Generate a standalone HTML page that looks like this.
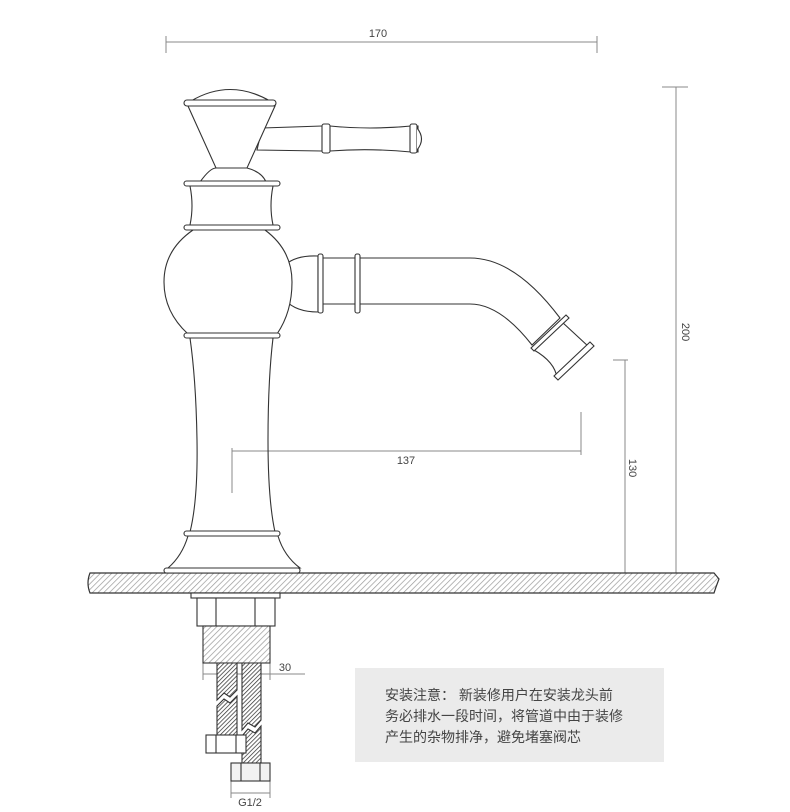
<!DOCTYPE html>
<html><head><meta charset="utf-8"><style>
html,body{margin:0;padding:0;background:#fff;}
svg{display:block;}
text{font-family:"Liberation Sans","Noto Sans CJK SC",sans-serif;}
</style></head><body>
<svg width="790" height="812" viewBox="0 0 790 812" xmlns="http://www.w3.org/2000/svg">
<defs>
<pattern id="h" width="4" height="4" patternUnits="userSpaceOnUse" patternTransform="rotate(45)">
<rect width="4" height="4" fill="#fff"/><line x1="0" y1="0" x2="0" y2="4" stroke="#999" stroke-width="1.4"/>
</pattern>
<pattern id="h2" width="3" height="3" patternUnits="userSpaceOnUse" patternTransform="rotate(45)">
<rect width="3" height="3" fill="#fff"/><line x1="0" y1="0" x2="0" y2="3" stroke="#333" stroke-width="1.5"/>
</pattern>
</defs>
<rect width="790" height="812" fill="#fff"/>
<!-- dims -->
<g stroke="#888" stroke-width="1" fill="none">
<line x1="166" y1="42" x2="597" y2="42"/><line x1="166" y1="36" x2="166" y2="53"/><line x1="597" y1="36" x2="597" y2="53"/>
<line x1="676" y1="87" x2="676" y2="573"/><line x1="662" y1="87" x2="688" y2="87"/>
<line x1="625" y1="360" x2="625" y2="573"/><line x1="613" y1="360" x2="628" y2="360"/>
<line x1="232" y1="451" x2="581" y2="451"/><line x1="232" y1="448" x2="232" y2="493"/><line x1="581" y1="412" x2="581" y2="455"/>
<line x1="203" y1="674" x2="305" y2="674"/><line x1="203" y1="663" x2="203" y2="680"/><line x1="270" y1="663" x2="270" y2="680"/>
<line x1="231" y1="793" x2="270" y2="793"/><line x1="231" y1="781" x2="231" y2="798"/><line x1="270" y1="781" x2="270" y2="798"/>
</g>
<g fill="#444" font-size="11">
<text x="378" y="37" text-anchor="middle">170</text>
<text x="406" y="464" text-anchor="middle">137</text>
<text x="285" y="671" text-anchor="middle">30</text>
<text x="250" y="806" text-anchor="middle">G1/2</text>
<text transform="translate(682,332) rotate(90)" text-anchor="middle">200</text>
<text transform="translate(629,468) rotate(90)" text-anchor="middle">130</text>
</g>
<!-- counter -->
<path d="M90 573 H714 L719 579 L716 587 L714 593 H90 Q86 583 90 573 Z" fill="url(#h)" stroke="#333" stroke-width="1.2"/>
<!-- faucet -->
<g stroke="#333" stroke-width="1.1" fill="#fff">
<path d="M262 128 L322 126 L330 126 Q370 130 411 126 L418 126 L418 152 L411 152 Q370 148 330 151 L322 151 L257 150 Z"/>
<rect x="322" y="124" width="8" height="29" rx="2"/>
<rect x="410" y="124" width="7" height="29" rx="2"/>
<path d="M417 128 Q426 139 417 150"/>
<path d="M191 101 Q230 78 270 101 Z"/>
<path d="M188 106 L275 106 L247 168 L216 168 Z"/>
<rect x="184" y="100" width="92" height="6" rx="3"/>
<path d="M200 182 Q210 168 216 168 L247 168 Q262 172 266 182 Z"/>
<rect x="184" y="181" width="96" height="5" rx="2.5"/>
<path d="M190 186 Q194 206 190 225 L273 225 Q269 206 273 186 Z"/>
<rect x="184" y="225" width="96" height="5" rx="2.5"/>
<path d="M285 265 Q296 255 318 256 L318 312 Q296 312 285 300 Z"/>
<path d="M322 258 H470 Q515 258 560 318 L532 345 Q500 304 470 304 H322 Z"/>
<rect x="318" y="254" width="5" height="59" rx="2"/>
<rect x="355" y="254" width="5" height="59" rx="2"/>
<path d="M562 322 L589 347 L557 378 Q555 362 534 350 Z"/>
<path d="M531 348 L566 315 L569 318 L534 351 Z"/>
<path d="M554 376 L590 342 L594 346 L558 380 Z"/>
<path d="M193 230 Q164 250 164 282 Q164 312 188 334 L277 334 Q292 312 292 282 Q292 250 265 230 Z"/>
<path d="M190 338 Q196 380 197 440 Q198 500 190 532 L275 532 Q268 500 268 440 Q268 380 273 338 Z" fill="none"/>
<rect x="184" y="333" width="96" height="5" rx="2.5"/>
<path d="M188 536 Q182 556 168 568 L300 568 Q284 556 278 536 Z"/>
<rect x="184" y="531" width="96" height="5" rx="2.5"/>
<rect x="164" y="568" width="136" height="5" rx="2.5"/>
<rect x="191" y="593" width="89" height="5"/>
<rect x="197" y="598" width="78" height="28"/>
<line x1="216" y1="598" x2="216" y2="626"/><line x1="255" y1="598" x2="255" y2="626"/>
<rect x="203" y="626" width="67" height="37" fill="url(#h)"/>
<path d="M217 663 H237 V690 L230 697 L224 693 L217 700 Z" fill="url(#h2)"/>
<path d="M217 706 L224 699 L230 703 L237 696 V735 H217 Z" fill="url(#h2)"/>
<path d="M242 663 H261 V720 L255 727 L248 723 L242 730 Z" fill="url(#h2)"/>
<path d="M242 736 L248 729 L255 733 L261 726 V763 H242 Z" fill="url(#h2)"/>
<rect x="206" y="735" width="40" height="18"/>
<line x1="216" y1="735" x2="216" y2="753"/><line x1="236" y1="735" x2="236" y2="753"/>
<rect x="231" y="763" width="39" height="18" fill="#f2f2f2"/>
<line x1="241" y1="763" x2="241" y2="781"/><line x1="260" y1="763" x2="260" y2="781"/>
</g>
<rect x="355" y="668" width="309" height="94" fill="#ebebeb"/>
<g fill="#444" font-size="14">
<text x="385" y="700">安装注意： 新装修用户在安装龙头前</text>
<text x="385" y="721">务必排水一段时间，将管道中由于装修</text>
<text x="385" y="742">产生的杂物排净，避免堵塞阀芯</text>
</g>
</svg>
</body></html>
